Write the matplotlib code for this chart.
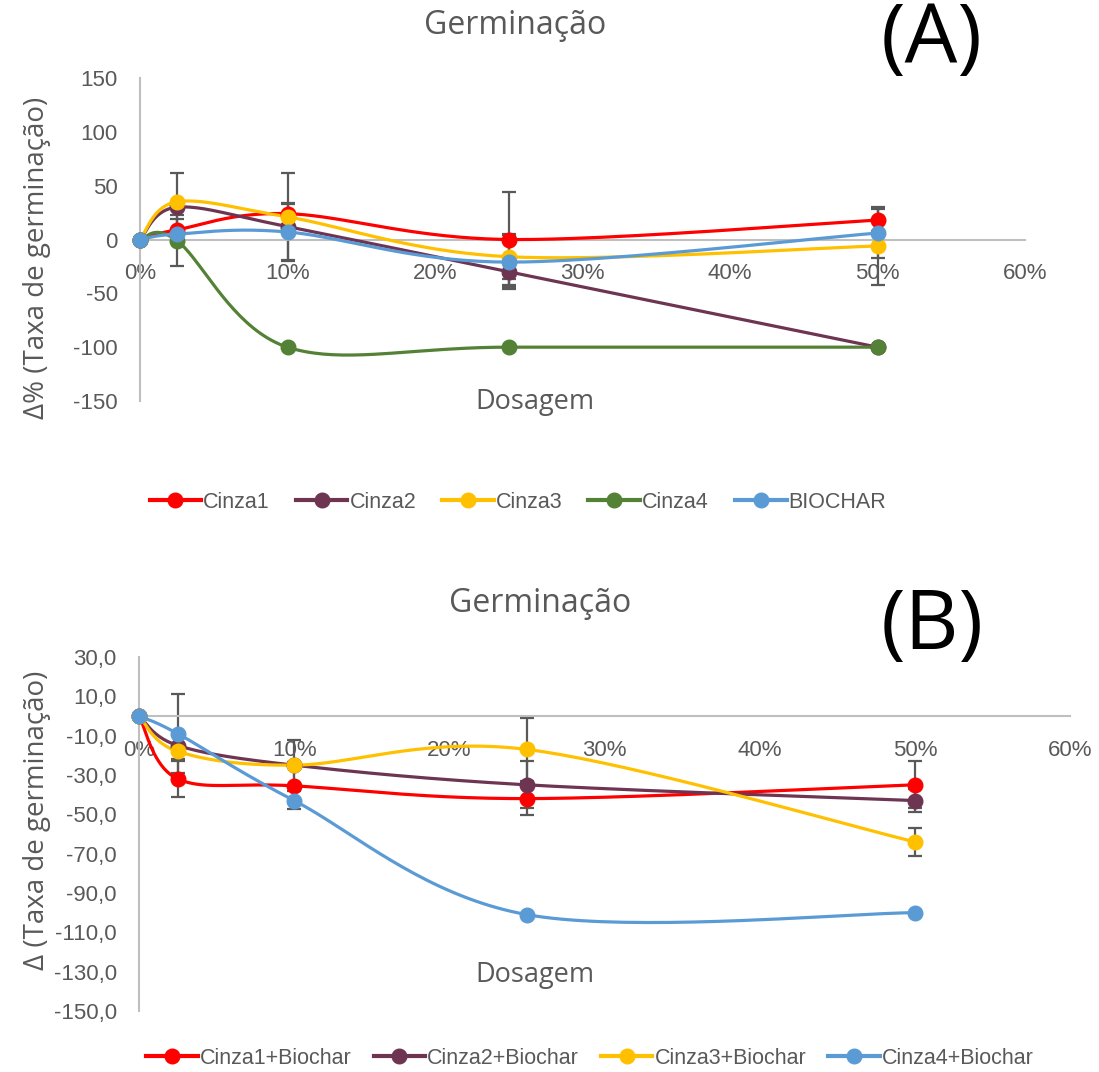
import numpy as np
import matplotlib
matplotlib.use('Agg')
from matplotlib import pyplot as plt
from matplotlib.lines import Line2D

# dados (dosagem em %)
dosagem = [0, 2.5, 10, 25, 50]

# (A) cinzas isoladas e biochar
cinza1 = [0, 9, 24, 0, 18]
cinza2 = [0, 30, 12, -30, -100]
cinza3 = [0, 35, 21, -16, -6]
cinza4 = [0, -1, -100, -100, -100]
biochar = [0, 5, 7, -21, 6]

err_cinza1 = [0, 10, 10, 44, 10]
err_cinza2 = [0, 0, 0, 12, 0]
err_cinza3 = [0, 27, 41, 21, 36]
err_cinza4 = [0, 24, 0, 0, 0]
err_biochar = [0, 0, 26, 25, 23]

# (B) cinzas + biochar
c1_bio = [0, -32, -35.5, -42, -35]
c2_bio = [0, -15, -25, -35, -43]
c3_bio = [0, -18, -25, -17, -64]
c4_bio = [0, -9, -43, -101, -100]

err_c1_bio = [0, 9, 12, 8.5, 12]
err_c2_bio = [0, 0, 0, 12, 6]
err_c3_bio = [0, 4, 13, 16, 7]
err_c4_bio = [0, 20, 0, 0, 0]

nomes_a = ['Cinza1', 'Cinza2', 'Cinza3', 'Cinza4', 'BIOCHAR']
nomes_b = ['Cinza1+Biochar', 'Cinza2+Biochar', 'Cinza3+Biochar', 'Cinza4+Biochar']

vermelho = '#FF0000'
roxo = '#6E3553'
amarelo = '#FFC000'
verde = '#538135'
azul = '#5B9BD5'
cinza_txt = '#595959'
cinza_eixo = '#BFBFBF'

FONTE_TXT = ['Open Sans', 'DejaVu Sans']
FONTE_NUM = ['Liberation Sans Narrow', 'Liberation Sans', 'DejaVu Sans']


def suaviza(x, y, n=40):
    # curva suave estilo Excel (Bezier com tangentes de Catmull-Rom)
    p = np.column_stack([x, y]).astype(float)
    saida = [p[0]]
    for i in range(len(p) - 1):
        p0 = p[max(i - 1, 0)]
        p1 = p[i]
        p2 = p[i + 1]
        p3 = p[min(i + 2, len(p) - 1)]
        c1 = p1 + (p2 - p0) / 6
        c2 = p2 - (p3 - p1) / 6
        t = np.linspace(0, 1, n)[1:, None]
        seg = (1 - t) ** 3 * p1 + 3 * (1 - t) ** 2 * t * c1 + 3 * (1 - t) * t ** 2 * c2 + t ** 3 * p2
        saida.extend(seg)
    saida = np.array(saida)
    return saida[:, 0], saida[:, 1]


def desenha(ax, series, erros, cores, ylim, yticks, yfmt):
    for y, e, c in zip(series, erros, cores):
        xs, ys = suaviza(dosagem, y)
        ax.plot(xs, ys, color=c, lw=2.3, zorder=3, solid_capstyle='round')
        ex = [d for d, v in zip(dosagem, e) if v > 0]
        ey = [yy for yy, v in zip(y, e) if v > 0]
        ee = [v for v in e if v > 0]
        if ee:
            ax.errorbar(ex, ey, yerr=ee, fmt='none', ecolor=cinza_txt, elinewidth=1.6,
                        capsize=5, capthick=1.6, zorder=2)
    for y, c in zip(series, cores):
        ax.plot(dosagem, y, 'o', color=c, ms=10.5, zorder=4, clip_on=False)
    ax.set_xlim(0, 60)
    ax.set_ylim(*ylim)
    ax.set_xticks([0, 10, 20, 30, 40, 50, 60])
    ax.set_xticklabels(['%d%%' % v for v in [0, 10, 20, 30, 40, 50, 60]])
    ax.set_yticks(yticks)
    ax.set_yticklabels([yfmt(v) for v in yticks])
    ax.spines['top'].set_visible(False)
    ax.spines['right'].set_visible(False)
    ax.spines['bottom'].set_position(('data', 0))
    ax.spines['left'].set_color(cinza_eixo)
    ax.spines['bottom'].set_color(cinza_eixo)
    ax.spines['left'].set_linewidth(1.5)
    ax.spines['bottom'].set_linewidth(1.5)
    ax.tick_params(axis='both', length=0, colors=cinza_txt, labelsize=16)
    ax.tick_params(axis='x', pad=17)
    ax.tick_params(axis='y', pad=16)
    for lb in ax.get_xticklabels() + ax.get_yticklabels():
        lb.set_family(FONTE_NUM)
    ax.patch.set_alpha(0)


W, H = 1099, 1072
fig = plt.figure(figsize=(W / 100, H / 100), dpi=100)

axA = fig.add_axes([140 / W, 1 - 401 / H, (1025 - 140) / W, (401 - 78) / H])
desenha(axA, [cinza1, cinza2, cinza3, cinza4, biochar],
        [err_cinza1, err_cinza2, err_cinza3, err_cinza4, err_biochar],
        [vermelho, roxo, amarelo, verde, azul],
        (-150, 150), [-150, -100, -50, 0, 50, 100, 150], lambda v: '%d' % v)

axB = fig.add_axes([139 / W, 1 - 1011 / H, (1070 - 139) / W, (1011 - 657) / H])
desenha(axB, [c1_bio, c2_bio, c3_bio, c4_bio],
        [err_c1_bio, err_c2_bio, err_c3_bio, err_c4_bio],
        [vermelho, roxo, amarelo, azul],
        (-150, 30), list(range(-150, 31, 20)), lambda v: ('%.1f' % v).replace('.', ','))

# títulos e rótulos
fig.text(515 / W, 1 - 25 / H, 'Germinação', ha='center', va='center', fontsize=23,
         color=cinza_txt, family=FONTE_TXT)
fig.text(540 / W, 1 - 604 / H, 'Germinação', ha='center', va='center', fontsize=23,
         color=cinza_txt, family=FONTE_TXT)
fig.text(932 / W, 1 - 42 / H, '(A)', ha='center', va='center', fontsize=60,
         color='black', family=FONTE_TXT)
fig.text(932 / W, 1 - 628 / H, '(B)', ha='center', va='center', fontsize=60,
         color='black', family=FONTE_TXT)
fig.text(37 / W, 1 - 258 / H, 'Δ% (Taxa de germinação)', rotation=90, ha='center', va='center',
         fontsize=20, color=cinza_txt, family=FONTE_TXT)
fig.text(37 / W, 1 - 820 / H, 'Δ (Taxa de germinação)', rotation=90, ha='center', va='center',
         fontsize=20, color=cinza_txt, family=FONTE_TXT)
fig.text(535 / W, 1 - 402 / H, 'Dosagem', ha='center', va='center', fontsize=19.5,
         color=cinza_txt, family=FONTE_TXT)
fig.text(535 / W, 1 - 975 / H, 'Dosagem', ha='center', va='center', fontsize=19.5,
         color=cinza_txt, family=FONTE_TXT)

# legendas
def alcas(cores):
    return [Line2D([], [], color=c, lw=3, marker='o', ms=10.5) for c in cores]

legA = fig.legend(alcas([vermelho, roxo, amarelo, verde, azul]), nomes_a, loc='center',
                  bbox_to_anchor=(518 / W, 1 - 502 / H), ncol=5, frameon=False,
                  handlelength=2.4, handletextpad=0.1, columnspacing=1.2,
                  prop={'family': FONTE_NUM, 'size': 15.5})
legB = fig.legend(alcas([vermelho, roxo, amarelo, azul]), nomes_b, loc='center',
                  bbox_to_anchor=(590 / W, 1 - 1058 / H), ncol=4, frameon=False,
                  handlelength=2.4, handletextpad=0.1, columnspacing=1.0,
                  prop={'family': FONTE_NUM, 'size': 15.5})
for leg in (legA, legB):
    for t in leg.get_texts():
        t.set_color(cinza_txt)

fig.savefig('out.png', dpi=100)
